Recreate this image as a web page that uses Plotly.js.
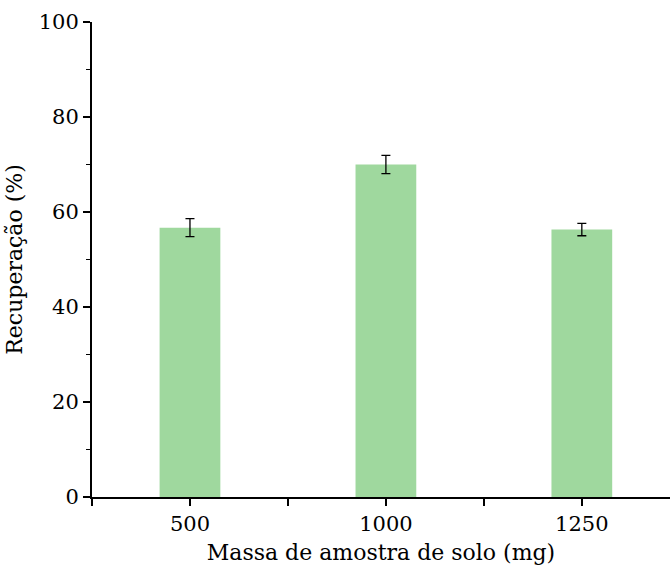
<!DOCTYPE html>
<html>
<head>
<meta charset="utf-8">
<script src="https://cdn.plot.ly/plotly-3.0.1.min.js"></script>
<style>html,body{margin:0;padding:0;overflow:hidden;background:#fff}</style>
</head>
<body>
<div id="chart" style="width:670px;height:571px"></div>
<script>
const categories = ["500", "1000", "1250"];
const recovery = [56.7, 70.0, 56.3];
const errors = [1.9, 1.9, 1.3];

const xPos = categories.map((_, i) => i);
const FONT = "DejaVu Serif";

const trace = {
  type: "bar",
  x: xPos,
  y: recovery,
  width: 0.31,
  marker: { color: "#9fd89e", line: { width: 0 } },
  error_y: { type: "data", array: errors, visible: true, color: "#000", thickness: 1.3, width: 4.5 },
  hoverinfo: "skip"
};

const layout = {
  width: 670,
  height: 571,
  margin: { l: 92, r: 0, t: 22, b: 74 },
  paper_bgcolor: "#fff",
  plot_bgcolor: "#fff",
  font: { family: FONT, color: "#000", size: 21 },
  showlegend: false,
  xaxis: {
    range: [-0.5, 2.45],
    tickvals: xPos,
    ticktext: categories,
    ticks: "outside",
    ticklen: 7,
    tickwidth: 1.5,
    tickcolor: "#000",
    showline: true,
    linecolor: "#000",
    linewidth: 2,
    showgrid: false,
    zeroline: false,
    tickfont: { size: 21, family: FONT },
    minor: { tick0: -0.5, dtick: 1, ticks: "outside", ticklen: 7, tickwidth: 1.5, tickcolor: "#000", showgrid: false },
    title: { text: "Massa de amostra de solo (mg)", font: { size: 22, family: FONT }, standoff: 9 }
  },
  yaxis: {
    range: [0, 100],
    dtick: 20,
    ticks: "outside",
    ticklen: 7,
    tickwidth: 1.5,
    tickcolor: "#000",
    showline: true,
    linecolor: "#000",
    linewidth: 2,
    showgrid: false,
    zeroline: false,
    tickfont: { size: 21, family: FONT },
    minor: { dtick: 10, ticks: "outside", ticklen: 4, tickwidth: 1.5, tickcolor: "#000", showgrid: false },
    title: { text: "Recuperação (%)", font: { size: 22, family: FONT }, standoff: 10 }
  }
};

Plotly.newPlot("chart", [trace], layout, { staticPlot: true, displayModeBar: false });
</script>
</body>
</html>
